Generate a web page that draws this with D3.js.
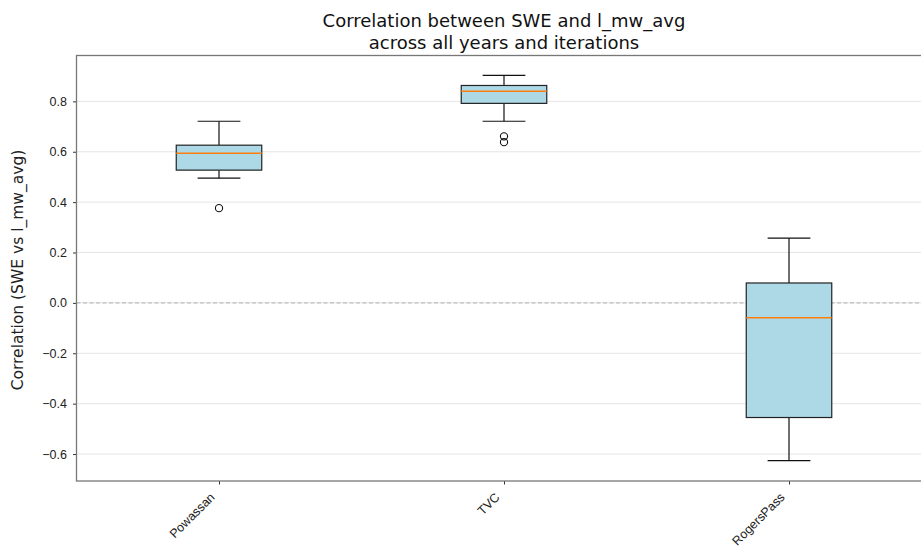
<!DOCTYPE html>
<html>
<head>
<meta charset="utf-8">
<script src="https://cdn.jsdelivr.net/npm/d3@7"></script>
<style>
  html, body { margin: 0; padding: 0; background: #fff; }
  svg { display: block; font-family: "DejaVu Sans", sans-serif; }
</style>
</head>
<body>
<svg id="chart" width="921" height="550"></svg>
<script>
// Box-plot summary statistics per site
const sites = ["Powassan", "TVC", "RogersPass"];
const whiskerLow = [0.495, 0.721, -0.626];
const q1 = [0.527, 0.792, -0.455];
const median = [0.594, 0.840, -0.059];
const q3 = [0.626, 0.863, 0.079];
const whiskerHigh = [0.721, 0.903, 0.257];
const outliers = [[0.376], [0.661, 0.638], []];
const yTicks = [-0.6, -0.4, -0.2, 0.0, 0.2, 0.4, 0.6, 0.8];

const boxes = sites.map((s, i) => ({
  site: s, pos: i + 1,
  lo: whiskerLow[i], q1: q1[i], med: median[i], q3: q3[i], hi: whiskerHigh[i],
  fliers: outliers[i]
}));

const svg = d3.select("#chart");
const plotLeft = 76.5, plotRight = 931.5, plotTop = 55.5, plotBottom = 481;

const x = d3.scaleLinear().domain([0.5, 3.5]).range([plotLeft, plotRight]);
const y = d3.scaleLinear().domain([-0.707, 0.982]).range([plotBottom, plotTop]);
const boxW = 0.3;

// horizontal grid
svg.append("g").selectAll("line").data(yTicks).join("line")
  .attr("x1", plotLeft).attr("x2", plotRight)
  .attr("y1", d => y(d)).attr("y2", d => y(d))
  .attr("stroke", "#e6e6e6").attr("stroke-width", 1);

// zero reference
svg.append("line")
  .attr("x1", plotLeft).attr("x2", plotRight)
  .attr("y1", y(0)).attr("y2", y(0))
  .attr("stroke", "#b0b0b0").attr("stroke-width", 1)
  .attr("stroke-dasharray", "4,2.5");

const g = svg.append("g").selectAll("g").data(boxes).join("g");

// whiskers
g.append("line")
  .attr("x1", d => x(d.pos)).attr("x2", d => x(d.pos))
  .attr("y1", d => y(d.q3)).attr("y2", d => y(d.hi))
  .attr("stroke", "#111").attr("stroke-width", 1.2);
g.append("line")
  .attr("x1", d => x(d.pos)).attr("x2", d => x(d.pos))
  .attr("y1", d => y(d.q1)).attr("y2", d => y(d.lo))
  .attr("stroke", "#111").attr("stroke-width", 1.2);
// caps
["hi", "lo"].forEach(k => {
  g.append("line")
    .attr("x1", d => x(d.pos - boxW / 4)).attr("x2", d => x(d.pos + boxW / 4))
    .attr("y1", d => y(d[k])).attr("y2", d => y(d[k]))
    .attr("stroke", "#111").attr("stroke-width", 1.2);
});
// box
g.append("rect")
  .attr("x", d => x(d.pos - boxW / 2))
  .attr("width", d => x(d.pos + boxW / 2) - x(d.pos - boxW / 2))
  .attr("y", d => y(d.q3))
  .attr("height", d => y(d.q1) - y(d.q3))
  .attr("fill", "#add8e6").attr("stroke", "#222").attr("stroke-width", 1.2);
// median
g.append("line")
  .attr("x1", d => x(d.pos - boxW / 2)).attr("x2", d => x(d.pos + boxW / 2))
  .attr("y1", d => y(d.med)).attr("y2", d => y(d.med))
  .attr("stroke", "#ff7f0e").attr("stroke-width", 1.4);
// fliers
g.selectAll("circle").data(d => d.fliers.map(v => ({ pos: d.pos, v }))).join("circle")
  .attr("cx", d => x(d.pos)).attr("cy", d => y(d.v)).attr("r", 3.6)
  .attr("fill", "none").attr("stroke", "#111").attr("stroke-width", 1.1);

// axes
const yAxis = svg.append("g").attr("transform", `translate(${plotLeft},0)`)
  .call(d3.axisLeft(y).tickValues(yTicks).tickSize(3.5).tickPadding(6)
    .tickFormat(d => d3.format(".1f")(d).replace("-", "\u2212")));
yAxis.select(".domain").remove();
yAxis.selectAll(".tick line").attr("stroke", "#333");
yAxis.selectAll("text").attr("font-size", 12.5).attr("fill", "#222");

const xAxis = svg.append("g").attr("transform", `translate(0,${plotBottom})`)
  .call(d3.axisBottom(x).tickValues(boxes.map(d => d.pos)).tickSize(3.5)
    .tickFormat((d, i) => sites[i]));
xAxis.select(".domain").remove();
xAxis.selectAll(".tick line").attr("stroke", "#333");
xAxis.selectAll("text")
  .attr("font-size", 12.5).attr("fill", "#222")
  .attr("text-anchor", "end")
  .attr("x", 0).attr("y", 0).attr("dy", 0)
  .attr("transform", "translate(-4,17) rotate(-45)");

// frame
svg.append("rect")
  .attr("x", plotLeft).attr("y", plotTop)
  .attr("width", plotRight - plotLeft).attr("height", plotBottom - plotTop)
  .attr("fill", "none").attr("stroke", "#777").attr("stroke-width", 1.3);

// title
svg.append("text").attr("x", (plotLeft + plotRight) / 2).attr("y", 27)
  .attr("text-anchor", "middle").attr("font-size", 18).attr("fill", "#111")
  .text("Correlation between SWE and l_mw_avg");
svg.append("text").attr("x", (plotLeft + plotRight) / 2).attr("y", 48.5)
  .attr("text-anchor", "middle").attr("font-size", 18).attr("fill", "#111")
  .text("across all years and iterations");

// y label
svg.append("text")
  .attr("transform", `translate(23,270) rotate(-90)`)
  .attr("text-anchor", "middle").attr("font-size", 15.5).attr("fill", "#222")
  .text("Correlation (SWE vs l_mw_avg)");
</script>
</body>
</html>
